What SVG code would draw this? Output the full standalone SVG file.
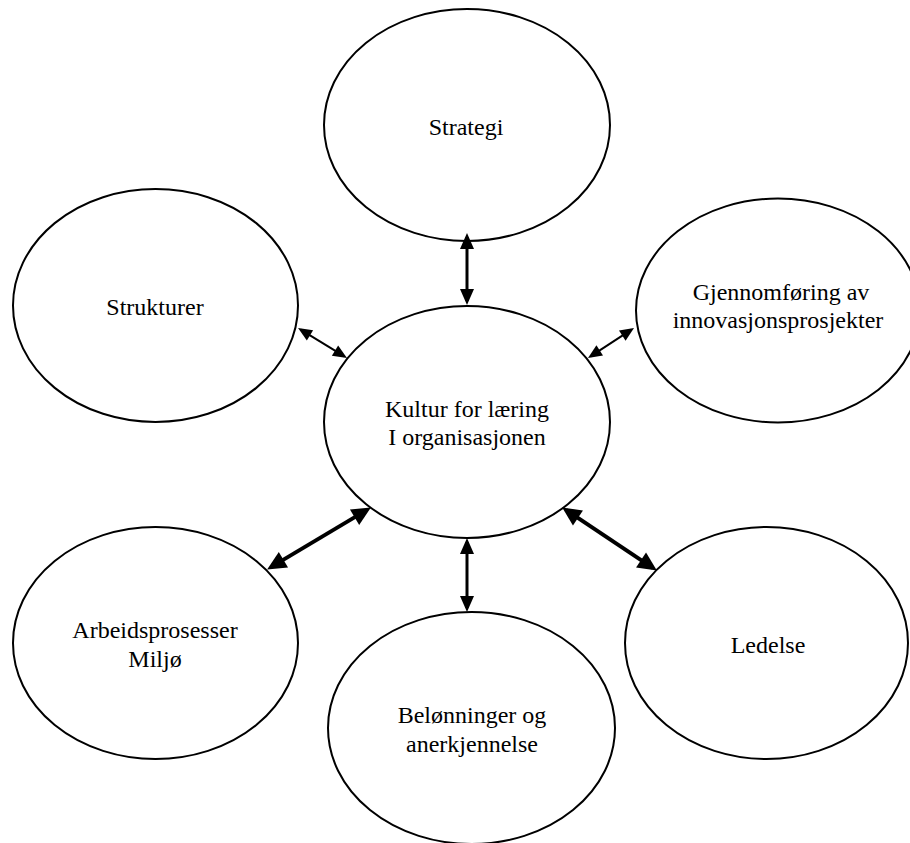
<svg xmlns="http://www.w3.org/2000/svg" width="910" height="843" viewBox="0 0 910 843">
<style>
.node ellipse { fill: #ffffff; stroke: #000000; stroke-width: 2; }
.node text { font-family: "Liberation Serif", "Times New Roman", serif; font-size: 24px; fill: #000000; text-anchor: middle; }
.conn line { stroke: #000000; fill: none; }
</style>
<defs>
<marker id="headA" markerUnits="userSpaceOnUse" markerWidth="16" markerHeight="14" refX="12" refY="7" orient="auto-start-reverse" overflow="visible">
<path d="M0,0 L16,7 L0,14 z" fill="#000"/>
</marker>
<marker id="headB" markerUnits="userSpaceOnUse" markerWidth="14" markerHeight="12" refX="11" refY="6" orient="auto-start-reverse" overflow="visible">
<path d="M0,0 L14,6 L0,12 z" fill="#000"/>
</marker>
<marker id="headC" markerUnits="userSpaceOnUse" markerWidth="19" markerHeight="18" refX="14" refY="9" orient="auto-start-reverse" overflow="visible">
<path d="M0,0 L19,9 L0,18 z" fill="#000"/>
</marker>
</defs>
<rect x="0" y="0" width="910" height="843" fill="#ffffff"/>
<g id="strategi" class="node">
<ellipse cx="467" cy="125" rx="143" ry="116"/>
<text x="466" y="135">Strategi</text>
</g>
<g id="strukturer" class="node">
<ellipse cx="155.5" cy="305.5" rx="142.5" ry="116.5"/>
<text x="155" y="315">Strukturer</text>
</g>
<g id="gjennomforing" class="node">
<ellipse cx="778" cy="310.5" rx="142" ry="112"/>
<text x="781" y="300">Gjennomføring av</text>
<text x="778" y="328">innovasjonsprosjekter</text>
</g>
<g id="kultur" class="node">
<ellipse cx="467" cy="422" rx="143" ry="116"/>
<text x="467" y="417">Kultur for læring</text>
<text x="467" y="445">I organisasjonen</text>
</g>
<g id="arbeidsprosesser" class="node">
<ellipse cx="155.5" cy="643" rx="142.5" ry="116"/>
<text x="155" y="638">Arbeidsprosesser</text>
<text x="155" y="667">Miljø</text>
</g>
<g id="belonninger" class="node">
<ellipse cx="471.5" cy="728" rx="143.5" ry="116"/>
<text x="472" y="723">Belønninger og</text>
<text x="472" y="752">anerkjennelse</text>
</g>
<g id="ledelse" class="node">
<ellipse cx="766.5" cy="643" rx="141.5" ry="116"/>
<text x="768" y="653">Ledelse</text>
</g>
<g id="connectors" class="conn">
<line x1="467" y1="237" x2="467" y2="301" stroke-width="3" marker-start="url(#headA)" marker-end="url(#headA)"/>
<line x1="467" y1="542" x2="467" y2="608" stroke-width="3" marker-start="url(#headA)" marker-end="url(#headA)"/>
<line x1="300.6" y1="329.6" x2="344.4" y2="356.4" stroke-width="2" marker-start="url(#headB)" marker-end="url(#headB)"/>
<line x1="590.5" y1="356.4" x2="631.5" y2="329.6" stroke-width="2" marker-start="url(#headB)" marker-end="url(#headB)"/>
<line x1="366.6" y1="510.1" x2="271.4" y2="566.9" stroke-width="4" marker-start="url(#headC)" marker-end="url(#headC)"/>
<line x1="566.3" y1="510.2" x2="652.7" y2="567.8" stroke-width="4" marker-start="url(#headC)" marker-end="url(#headC)"/>
</g>
</svg>
